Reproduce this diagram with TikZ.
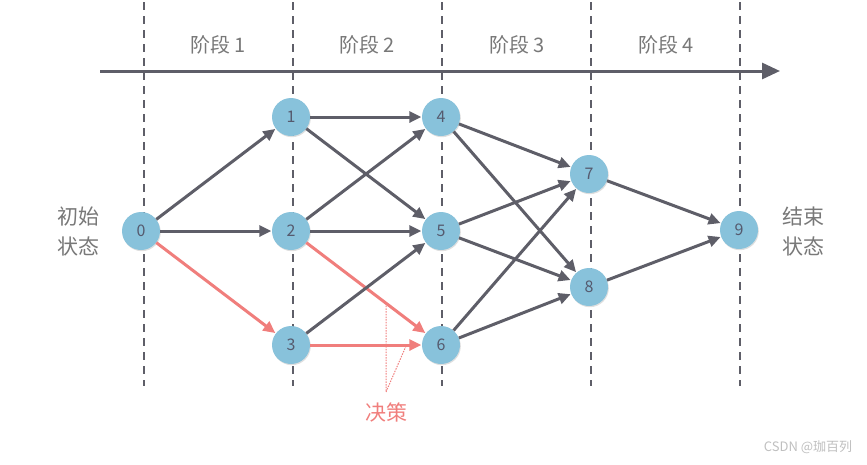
\documentclass[tikz,border=0pt]{standalone}
\usepackage{fontspec}
\setmainfont{Noto Sans CJK SC}
\usetikzlibrary{arrows.meta,shadows}
\definecolor{edgegray}{RGB}{94,94,104}
\definecolor{nodeblue}{RGB}{136,194,219}
\definecolor{labelgray}{RGB}{120,120,120}
\definecolor{numgray}{RGB}{85,90,110}
\definecolor{redline}{RGB}{240,126,124}
\tikzset{
  state/.style={circle,fill=nodeblue,minimum size=38pt,inner sep=0pt,
    text=numgray,font=\fontsize{16}{16}\selectfont,
    drop shadow={opacity=0.25,shadow xshift=0.8pt,shadow yshift=-1.2pt}},
  edge/.style={draw=edgegray,line width=3pt,-{Triangle[length=12pt,width=11pt]},shorten >=0.5pt},
  redge/.style={edge,draw=redline},
  divider/.style={draw=edgegray,line width=2.5pt,dash pattern=on 8pt off 6pt},
  stagelbl/.style={text=labelgray,font=\fontsize{20}{20}\selectfont},
  sidelbl/.style={text=labelgray,font=\fontsize{21}{30}\selectfont,align=left},
  decision/.style={draw=redline,line width=1pt,dash pattern=on 1.5pt off 1.2pt}
}
\begin{document}
\begin{tikzpicture}[x=1pt,y=-1pt]
\useasboundingbox (0,0) rectangle (867,464);
% dividers
\foreach \xx [count=\i] in {144,293,442,591,740}{
  \coordinate (dt\i) at (\xx,2);
  \coordinate (db\i) at (\xx,386);
  \draw[divider] (dt\i) -- (db\i);
}
% timeline
\coordinate (tl) at (100,71);
\coordinate (tr) at (780,71);
\draw[draw=edgegray,line width=3pt,-{Triangle[length=18pt,width=16pt]}] (tl) -- (tr);
% stage labels
\node[stagelbl] (s1) at (218,45) {阶段\hspace{4pt}1};
\node[stagelbl] (s2) at (367,45) {阶段\hspace{4pt}2};
\node[stagelbl] (s3) at (517,45) {阶段\hspace{4pt}3};
\node[stagelbl] (s4) at (666,45) {阶段\hspace{4pt}4};
% side labels
\node[sidelbl] (start) at (78,231) {初始\\状态};
\node[sidelbl] (end) at (803,231) {结束\\状态};
% nodes
\node[state] (n0) at (141,231) {0};
\node[state] (n1) at (291,117) {1};
\node[state] (n2) at (291,231) {2};
\node[state] (n3) at (291,345) {3};
\node[state] (n4) at (441,117) {4};
\node[state] (n5) at (441,231) {5};
\node[state] (n6) at (441,345) {6};
\node[state] (n7) at (589,174) {7};
\node[state] (n8) at (589,287) {8};
\node[state] (n9) at (739,230) {9};
% edges
\draw[edge] (n0) -- (n1);
\draw[edge] (n0) -- (n2);
\draw[redge] (n0) -- (n3);
\draw[edge] (n1) -- (n4);
\draw[edge] (n1) -- (n5);
\draw[edge] (n2) -- (n4);
\draw[edge] (n2) -- (n5);
\draw[redge] (n2) -- (n6);
\draw[edge] (n3) -- (n5);
\draw[redge] (n3) -- (n6);
\draw[edge] (n4) -- (n7);
\draw[edge] (n4) -- (n8);
\draw[edge] (n5) -- (n7);
\draw[edge] (n5) -- (n8);
\draw[edge] (n6) -- (n7);
\draw[edge] (n6) -- (n8);
\draw[edge] (n7) -- (n9);
\draw[edge] (n8) -- (n9);
% decision annotation
\coordinate (da) at (386,303);
\coordinate (db) at (386,392);
\coordinate (dc) at (406,346);
\draw[decision] (da) -- (db) -- (dc);
\node[text=redline,font=\fontsize{21}{21}\selectfont] (dlbl) at (386,412) {决策};
% watermark
\node[text=black!25,font=\fontsize{13}{13}\selectfont] (wm) at (808,447) {CSDN @珈百列};
\end{tikzpicture}
\end{document}
